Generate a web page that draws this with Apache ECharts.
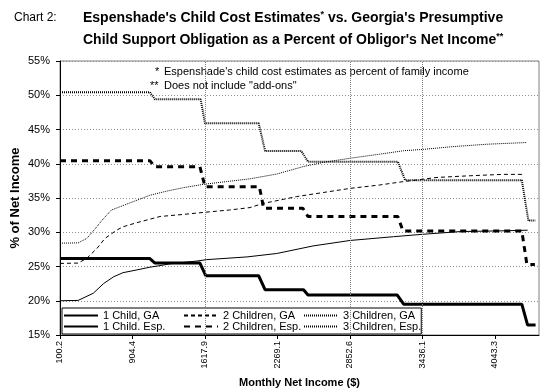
<!DOCTYPE html>
<html>
<head>
<meta charset="utf-8">
<script src="https://cdn.jsdelivr.net/npm/echarts@6/dist/echarts.min.js"></script>
<style>
html,body{margin:0;padding:0;background:#fff;}
#c{width:557px;height:389px;}
</style>
</head>
<body>
<div id="c"></div>
<script>
// x positions are expressed in units of the labelled ticks (0 = first label "100.2")
const tickLabels = ['100.2','904.4','1617.9','2269.1','2852.6','3436.1','4043.3'];
const tickPositions = [0,1,2,3,4,5,6];
const verticalGridAt = [2,4,5];
const seriesNames = ['1 Child, GA','2 Children, GA','3 Children, GA','1 Child. Esp.','2 Children, Esp.','3 Children, Esp.'];

const oneChildGA = [[0,20.0],[0.25,20.05],[0.46,21.1],[0.6,22.5],[0.74,23.5],[0.87,24.1],[1.06,24.5],[1.24,24.9],[1.42,25.2],[1.52,25.4],[1.89,25.8],[2.02,26.0],[2.58,26.4],[2.99,26.9],[3.49,28.0],[4.0,28.8],[4.6,29.35],[5.0,29.7],[5.52,30.1],[6.07,30.2],[6.45,30.3]];
const oneChildEsp = [[0,26.15],[1.24,26.15],[1.31,25.5],[1.93,25.5],[2.01,23.65],[2.74,23.65],[2.83,21.6],[3.36,21.6],[3.42,20.85],[4.65,20.85],[4.74,19.5],[6.37,19.5],[6.45,16.45],[6.56,16.45]];
const twoChildrenGA = [[0,25.45],[0.25,25.5],[0.37,26.2],[0.51,27.65],[0.62,29.1],[0.78,30.3],[0.87,30.8],[1.06,31.4],[1.38,32.3],[1.7,32.6],[1.98,32.9],[2.34,33.25],[2.62,33.6],[2.8,34.2],[3.08,34.8],[3.26,35.2],[3.63,35.8],[4.0,36.4],[4.41,36.9],[4.74,37.4],[5.2,38.0],[5.66,38.25],[6.11,38.45],[6.41,38.45]];
const twoChildrenEsp = [[0,40.45],[1.24,40.45],[1.31,39.55],[1.93,39.55],[2.0,36.65],[2.75,36.65],[2.81,33.5],[3.35,33.5],[3.42,32.3],[4.66,32.3],[4.73,30.2],[6.37,30.2],[6.44,25.3],[6.55,25.3]];
const threeChildrenGA = [[0,28.4],[0.25,28.45],[0.37,29.1],[0.46,30.2],[0.6,32.0],[0.71,33.25],[0.92,34.1],[1.24,35.4],[1.47,36.0],[1.7,36.5],[1.98,37.0],[2.3,37.4],[2.62,37.8],[2.99,38.5],[3.36,39.6],[3.63,40.2],[4.0,40.8],[4.41,41.4],[4.74,41.9],[5.01,42.1],[5.42,42.5],[5.89,42.85],[6.44,43.1]];
const threeChildrenEsp = [[0,50.45],[1.24,50.45],[1.31,49.4],[1.94,49.4],[2.0,45.9],[2.74,45.9],[2.83,41.85],[3.33,41.85],[3.42,40.3],[4.66,40.3],[4.76,37.6],[6.37,37.6],[6.46,31.7],[6.56,31.7]];

const FONT = "'Liberation Sans', Arial, sans-serif";
const chart = echarts.init(document.getElementById('c'), null, {renderer:'canvas'});

function line(name, data, width, type, z){
  return {
    name: name, type: 'line', data: data, symbol: 'none', showSymbol: false,
    animation: false, z: z || 3,
    lineStyle: {color: '#000', width: width, type: type},
    itemStyle: {color: '#000'},
    emphasis: {disabled: true}
  };
}

const s1 = line(seriesNames[0], oneChildGA, 1, 'solid');
s1.markLine = {
  silent: true, symbol: ['none','none'], label: {show:false},
  lineStyle: {color:'#808080', width:1, type:[1,1]},
  data: verticalGridAt.map(v => ({xAxis: v})),
  animation: false
};
s1.z = 2;

const option = {
  backgroundColor: '#fff',
  animation: false,
  textStyle: {fontFamily: FONT, color: '#000'},
  title: [
    {text: 'Chart 2:', left: 14, top: 12, padding: 0,
     textStyle: {fontFamily: FONT, fontSize: 12, fontWeight: 'normal', color: '#000'}},
    {text: "{b|Espenshade's Child Cost Estimates}{s|*}{b| vs. Georgia's Presumptive}\n{b|Child Support Obligation as a Percent of Obligor's Net Income}{s|**}",
     left: 83, top: 7, padding: 0,
     textStyle: {fontFamily: FONT, color:'#000',
       rich: {
         b: {fontFamily: FONT, fontSize: 14, fontWeight: 'bold', lineHeight: 22, color:'#000'},
         s: {fontFamily: FONT, fontSize: 9, fontWeight: 'bold', lineHeight: 18, verticalAlign: 'top', padding: [3,0,0,0], color:'#000'}
       }}}
  ],
  grid: {left: 60, right: 18, top: 61, bottom: 54, show: true, borderColor: '#808080', borderWidth: 1,
         backgroundColor: 'transparent', containLabel: false, outerBoundsMode: 'none'},
  xAxis: {
    type: 'value', min: 0, max: 6.607,
    name: 'Monthly Net Income ($)', nameLocation: 'middle', nameGap: 42, nameMoveOverlap: false,
    nameTextStyle: {fontFamily: FONT, fontSize: 11, fontWeight: 'bold', color: '#000'},
    axisLine: {show: true, onZero: false, lineStyle: {color: '#000', width: 1}},
    axisTick: {show: true, length: 4, inside: false, customValues: tickPositions, lineStyle: {color:'#000'}},
    axisLabel: {show: true, rotate: 90, margin: 6, fontFamily: FONT, fontSize: 9, color: '#000',
      customValues: tickPositions, hideOverlap: false, showMinLabel: true, showMaxLabel: true,
      formatter: function(v){ const i = Math.round(v); return tickLabels[i] !== undefined ? tickLabels[i] : ''; }},
    splitLine: {show: false}
  },
  yAxis: {
    type: 'value', min: 15, max: 55, interval: 5,
    name: '% of Net Income', nameLocation: 'middle', nameGap: 38, nameMoveOverlap: false,
    nameTextStyle: {fontFamily: FONT, fontSize: 13, fontWeight: 'bold', color: '#000'},
    axisLine: {show: true, lineStyle: {color:'#000', width: 1}},
    axisTick: {show: true, length: 4, lineStyle: {color:'#000'}},
    axisLabel: {fontFamily: FONT, fontSize: 11, color: '#000', margin: 10, formatter: '{value}%'},
    splitLine: {show: true, lineStyle: {color: '#909090', width: 1, type: [1,2]}}
  },
  legend: {
    left: 62, top: 308, orient: 'horizontal', width: 390,
    padding: [2, 0, 2, 1], itemGap: 0, itemWidth: 34, itemHeight: 8,
    backgroundColor: '#fff', borderColor: '#000', borderWidth: 1,
    selectedMode: false,
    itemStyle: {opacity: 0},
    textStyle: {fontFamily: FONT, fontSize: 11, color: '#000', lineHeight: 10},
    data: [
      {name: seriesNames[0], textStyle: {width: 80}},
      {name: seriesNames[1], textStyle: {width: 80}},
      {name: seriesNames[2], textStyle: {width: 74}},
      {name: seriesNames[3], textStyle: {width: 80}},
      {name: seriesNames[4], textStyle: {width: 80}},
      {name: seriesNames[5], textStyle: {width: 74}}
    ].map(d => Object.assign({itemStyle: {opacity: 0}}, d))
  },
  graphic: [
    {type: 'text', left: 155, top: 66, silent: true, style: {text: '*', font: '11px ' + FONT, fill: '#000'}},
    {type: 'text', left: 164, top: 66, silent: true, style: {text: "Espenshade's child cost estimates as percent of family income", font: '11px ' + FONT, fill: '#000'}},
    {type: 'text', left: 150, top: 80, silent: true, style: {text: '**', font: '11px ' + FONT, fill: '#000'}},
    {type: 'text', left: 164, top: 80, silent: true, style: {text: 'Does not include "add-ons"', font: '11px ' + FONT, fill: '#000'}}
  ],
  series: [
    s1,
    line(seriesNames[1], twoChildrenGA, 1, [4,3]),
    line(seriesNames[2], threeChildrenGA, 1, [1,1]),
    line(seriesNames[3], oneChildEsp, 3, 'solid'),
    line(seriesNames[4], twoChildrenEsp, 3, [6,5]),
    line(seriesNames[5], threeChildrenEsp, 2, [1,1])
  ]
};
chart.setOption(option);
</script>
</body>
</html>
